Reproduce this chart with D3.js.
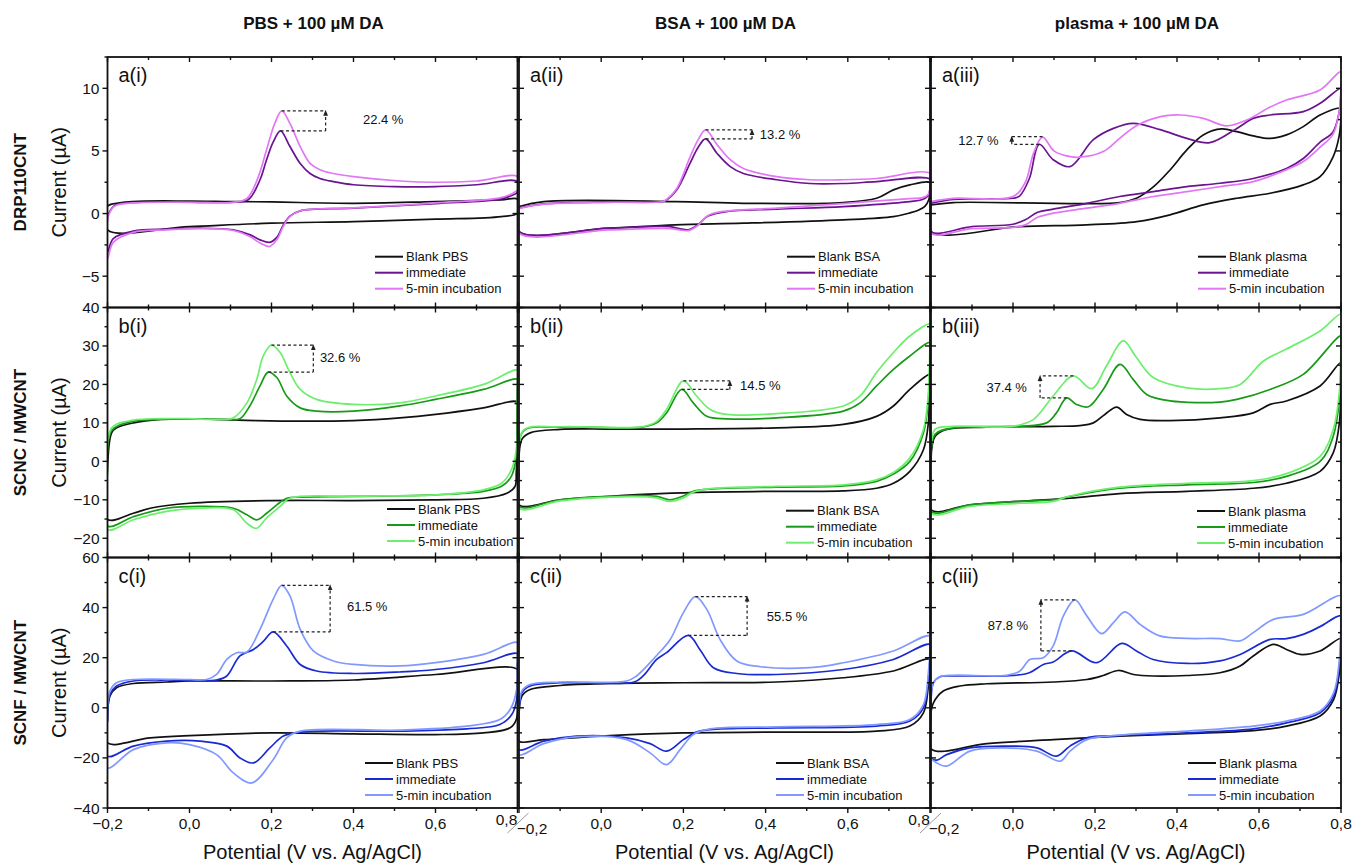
<!DOCTYPE html>
<html><head><meta charset="utf-8">
<script src="https://cdn.jsdelivr.net/npm/d3@7"></script>
<style>body{margin:0;background:#fff}svg{display:block}text{font-family:"Liberation Sans",Arial,sans-serif;fill:#111}</style>
</head><body><svg id="c" width="1354" height="864"></svg>
<script>
// ---------------- DATA ----------------
const colTitles = ["PBS + 100 µM DA", "BSA + 100 µM DA", "plasma + 100 µM DA"];
const rowLabels = ["DRP110CNT", "SCNC / MWCNT", "SCNF / MWCNT"];
const panelLabels = [["a(i)","a(ii)","a(iii)"],["b(i)","b(ii)","b(iii)"],["c(i)","c(ii)","c(iii)"]];
const legendNames = [["Blank PBS","immediate","5-min incubation"],["Blank BSA","immediate","5-min incubation"],["Blank plasma","immediate","5-min incubation"]];
const xDomain = [-0.2, 0.8];
const xMajorTicks = [-0.2, 0, 0.2, 0.4, 0.6, 0.8];
const xMinorTicks = [-0.1, 0.1, 0.3, 0.5, 0.7];
const xTickLabels = ["−0,2", "0,0", "0,2", "0,4", "0,6", "0,8"];
const yDomainA = [-7.5, 12.5], yDomainB = [-25, 40], yDomainC = [-40, 60];
const yTicksA = [-5, 0, 5, 10], yTicksB = [-20, -10, 0, 10, 20, 30, 40], yTicksC = [-40, -20, 0, 20, 40, 60];
const yMinorA = [-7.5, -2.5, 2.5, 7.5, 12.5], yMinorB = [-25, -15, -5, 5, 15, 25, 35], yMinorC = [-30, -10, 10, 30, 50];
const xTitle = "Potential (V vs. Ag/AgCl)", yTitle = "Current (µA)";

// each CV: forward (upper) branch -0.2 -> 0.8, then reverse (lower) branch 0.8 -> -0.2 ; [E (V), I (µA)]
const a1Blank = [[-0.2,0.6],[-0.19,0.75],[-0.14,0.96],[0,1.0],[0.1,0.96],[0.2,0.93],[0.4,0.82],[0.6,0.96],[0.76,1.09],[0.8,1.15],
 [0.8,0.05],[0.76,-0.24],[0.6,-0.45],[0.4,-0.64],[0.2,-0.77],[0,-1.04],[-0.2,-1.3]];
const a1Imm = [[-0.2,-0.2],[-0.19,0.4],[-0.18,0.7],[-0.14,0.88],[0,0.92],[0.1,0.9],[0.143,1.1],[0.172,2.7],[0.188,4.3],[0.204,5.7],[0.222,6.6],[0.245,5.35],[0.27,4.0],[0.294,3.2],[0.318,2.8],[0.351,2.55],[0.4,2.3],[0.5,2.15],[0.6,2.15],[0.7,2.3],[0.8,2.55],
 [0.8,1.7],[0.79,1.5],[0.757,1.15],[0.6,0.8],[0.4,0.43],[0.27,0.22],[0.245,-0.2],[0.229,-0.9],[0.213,-1.9],[0.195,-2.3],[0.172,-2.1],[0.148,-1.7],[0.107,-1.3],[0.026,-1.17],[-0.056,-1.25],[-0.137,-1.4],[-0.186,-2.0],[-0.2,-3.1]];
const a1Inc = [[-0.2,-0.35],[-0.19,0.35],[-0.18,0.65],[-0.14,0.85],[0,0.9],[0.1,0.88],[0.14,1.2],[0.168,2.95],[0.188,5.1],[0.208,7.2],[0.225,8.2],[0.245,7.2],[0.27,5.35],[0.294,4.0],[0.318,3.5],[0.351,3.2],[0.4,2.95],[0.513,2.6],[0.6,2.5],[0.7,2.6],[0.8,2.95],
 [0.8,1.9],[0.79,1.65],[0.757,1.25],[0.6,0.85],[0.4,0.45],[0.27,0.22],[0.245,-0.25],[0.229,-1.0],[0.213,-2.1],[0.195,-2.63],[0.172,-2.35],[0.148,-1.85],[0.107,-1.35],[0.026,-1.2],[-0.056,-1.3],[-0.137,-1.5],[-0.186,-2.3],[-0.2,-3.6]];

const a2Blank = [[-0.2,0.56],[-0.14,0.96],[0.18,0.96],[0.346,0.82],[0.589,0.88],[0.67,1.22],[0.711,1.89],[0.751,2.29],[0.8,2.47],
 [0.8,1.8],[0.797,1.1],[0.788,0.6],[0.77,0.25],[0.751,0.05],[0.711,-0.24],[0.589,-0.5],[0.346,-0.77],[0.18,-0.9],[0.02,-1.17],[-0.2,-1.44]];
const a2Imm = [[-0.2,0.43],[-0.14,0.77],[0.02,0.93],[0.15,0.96],[0.16,1.1],[0.184,1.9],[0.216,4.0],[0.236,5.3],[0.254,5.96],[0.282,4.8],[0.314,3.75],[0.346,3.2],[0.427,2.7],[0.508,2.4],[0.589,2.4],[0.67,2.55],[0.8,2.74],
 [0.8,1.95],[0.795,1.4],[0.78,1.1],[0.751,0.96],[0.589,0.56],[0.427,0.35],[0.305,0.16],[0.26,-0.2],[0.235,-0.9],[0.212,-1.3],[0.19,-1.2],[0.167,-1.04],[0.02,-1.17],[-0.2,-1.44]];
const a2Inc = [[-0.2,0.4],[-0.14,0.75],[0.02,0.9],[0.15,0.96],[0.16,1.15],[0.184,2.0],[0.216,4.5],[0.236,5.9],[0.254,6.68],[0.282,5.5],[0.314,4.3],[0.346,3.6],[0.427,2.95],[0.508,2.7],[0.589,2.7],[0.67,2.8],[0.8,3.2],
 [0.8,2.0],[0.795,1.5],[0.78,1.25],[0.751,1.2],[0.589,0.8],[0.427,0.43],[0.305,0.2],[0.26,-0.15],[0.235,-0.95],[0.212,-1.36],[0.19,-1.3],[0.167,-1.2],[0.02,-1.3],[-0.2,-1.57]];

const a3Blank = [[-0.2,0.69],[-0.146,0.88],[0.26,0.88],[0.301,1.22],[0.343,2.15],[0.383,3.48],[0.424,5.08],[0.464,6.28],[0.509,6.76],[0.546,6.54],[0.586,6.2],[0.627,6.0],[0.667,6.28],[0.708,6.94],[0.749,7.87],[0.8,8.4],
 [0.8,7.6],[0.795,6.1],[0.781,4.55],[0.749,2.95],[0.708,2.29],[0.627,1.62],[0.546,1.22],[0.464,0.69],[0.383,-0.1],[0.302,-0.64],[0.18,-0.9],[0.017,-1.04],[-0.2,-1.44]];
const a3Imm = [[-0.2,0.82],[-0.146,1.14],[0.0,1.22],[0.016,1.4],[0.04,2.8],[0.064,5.53],[0.098,4.3],[0.139,3.75],[0.196,5.9],[0.245,6.8],[0.293,7.2],[0.359,6.7],[0.424,6.0],[0.48,5.66],[0.546,6.8],[0.586,7.6],[0.627,7.87],[0.708,8.14],[0.749,8.8],[0.8,10.0],
 [0.8,9.6],[0.795,8.0],[0.78,6.5],[0.749,5.7],[0.708,4.4],[0.667,3.6],[0.586,2.8],[0.505,2.42],[0.424,2.15],[0.343,1.75],[0.26,1.36],[0.18,0.82],[0.098,0.35],[0.06,0.1],[0.03,-0.5],[0.0,-0.85],[-0.1,-1.04],[-0.2,-1.44]];
const a3Inc = [[-0.2,0.96],[-0.146,1.22],[0.0,1.36],[0.03,2.5],[0.05,4.8],[0.072,6.1],[0.1,5.0],[0.13,4.6],[0.163,4.5],[0.22,4.95],[0.26,6.0],[0.3,7.0],[0.36,7.74],[0.407,7.87],[0.464,7.6],[0.521,7.0],[0.57,7.47],[0.627,8.5],[0.667,9.07],[0.749,9.87],[0.8,11.33],
 [0.8,10.0],[0.795,8.0],[0.78,6.3],[0.749,5.3],[0.708,4.15],[0.667,3.5],[0.586,2.55],[0.505,2.15],[0.424,1.75],[0.343,1.36],[0.26,0.82],[0.18,0.43],[0.098,0.03],[0.06,-0.3],[0.03,-0.9],[0.0,-1.1],[-0.1,-1.2],[-0.2,-1.57]];

const b1Blank = [[-0.2,-2.2],[-0.19,7.4],[-0.178,8.7],[-0.137,10.0],[-0.072,10.9],[0.0,11.05],[0.066,10.9],[0.164,10.6],[0.27,10.44],[0.4,10.6],[0.513,11.3],[0.6,12.2],[0.717,13.9],[0.8,15.4],
 [0.8,12],[0.799,5],[0.797,-3],[0.794,-6.5],[0.774,-8.3],[0.717,-9.6],[0.595,-10],[0.4,-10.2],[0.2,-10.2],[0.0,-10.9],[-0.096,-12.2],[-0.137,-13.5],[-0.2,-15.1]];
const b1Imm = [[-0.2,-3],[-0.19,8.0],[-0.137,10.4],[-0.072,10.9],[0.0,11.05],[0.1,10.9],[0.123,11.05],[0.147,14.4],[0.172,19.6],[0.192,23.2],[0.213,21.8],[0.237,17.0],[0.27,13.9],[0.31,13.05],[0.4,13.05],[0.513,14.4],[0.6,16.1],[0.717,18.7],[0.8,21.3],
 [0.8,19],[0.799,10],[0.797,1.3],[0.785,-3.9],[0.761,-6.5],[0.717,-7.8],[0.6,-8.7],[0.4,-9.1],[0.27,-9.3],[0.237,-9.6],[0.213,-11.3],[0.188,-13.5],[0.164,-15.2],[0.14,-13.9],[0.107,-12.2],[0.026,-11.7],[-0.056,-12.2],[-0.137,-14.4],[-0.2,-16.8]];
const b1Inc = [[-0.2,-2.2],[-0.19,8.7],[-0.137,10.7],[-0.072,11.1],[0.0,11.1],[0.066,10.9],[0.107,11.3],[0.14,15.2],[0.164,21.3],[0.18,27.4],[0.2,30.2],[0.221,28.3],[0.245,23.1],[0.27,18.7],[0.31,16.1],[0.4,14.8],[0.513,15.2],[0.6,17.0],[0.717,20.0],[0.8,23.7],
 [0.8,21],[0.799,12],[0.797,3],[0.785,-2.2],[0.761,-5.7],[0.717,-7.4],[0.6,-8.7],[0.4,-9.1],[0.245,-9.6],[0.221,-11.7],[0.188,-14.7],[0.164,-17.4],[0.14,-16.1],[0.107,-12.6],[0.026,-12.2],[-0.056,-13.0],[-0.137,-15.2],[-0.2,-17.7]];

const b2Blank = [[-0.2,-3.9],[-0.193,5.7],[-0.173,7.4],[-0.1,8.3],[0.021,8.4],[0.2,8.4],[0.427,8.7],[0.589,9.6],[0.67,11.7],[0.711,14.4],[0.751,18.7],[0.8,22.6],
 [0.8,20],[0.798,15],[0.796,10],[0.784,3.0],[0.751,-2.6],[0.711,-5.7],[0.67,-7.0],[0.589,-7.7],[0.427,-7.8],[0.265,-8.0],[0.143,-8.4],[0.021,-9.1],[-0.1,-10],[-0.2,-11.3]];
const b2Imm = [[-0.2,-2.2],[-0.19,7.8],[-0.1,8.9],[0.1,8.9],[0.135,10.0],[0.159,12.6],[0.196,18.7],[0.224,15.2],[0.257,11.7],[0.305,11.05],[0.427,11.3],[0.589,13.05],[0.63,15.2],[0.67,19.6],[0.711,23.9],[0.751,27.4],[0.8,30.9],
 [0.8,28],[0.796,16],[0.784,7.4],[0.751,0],[0.711,-3.3],[0.67,-5.2],[0.589,-6.4],[0.427,-6.7],[0.265,-7.2],[0.224,-7.8],[0.2,-9.0],[0.167,-10.0],[0.135,-9.1],[0.021,-9.1],[-0.1,-10],[-0.2,-11.7]];
const b2Inc = [[-0.2,-2.0],[-0.19,8.0],[-0.1,9.0],[0.1,9.0],[0.135,10.4],[0.159,13.5],[0.2,20.9],[0.232,17.0],[0.265,13.5],[0.305,12.2],[0.427,12.4],[0.589,14.4],[0.63,17.0],[0.67,23.1],[0.711,28.3],[0.751,32.6],[0.8,35.7],
 [0.8,33],[0.796,18],[0.784,8.3],[0.751,0.9],[0.711,-2.9],[0.67,-4.8],[0.589,-6.1],[0.427,-6.5],[0.265,-7.1],[0.224,-8.0],[0.2,-9.5],[0.163,-10.4],[0.135,-9.5],[0.021,-9.3],[-0.1,-10.3],[-0.2,-12.2]];

const b3Blank = [[-0.2,0.4],[-0.19,6.5],[-0.162,8.3],[-0.064,8.9],[0.098,9.1],[0.163,9.3],[0.196,10],[0.224,12.2],[0.253,14.1],[0.277,12.2],[0.31,10.9],[0.383,10.6],[0.505,11.3],[0.586,12.6],[0.627,14.8],[0.667,15.7],[0.749,19.6],[0.8,25.7],
 [0.8,22],[0.796,10],[0.781,2.2],[0.749,-2.6],[0.667,-5.7],[0.586,-7.0],[0.424,-7.8],[0.26,-8.4],[0.139,-9.6],[0.017,-10.4],[-0.105,-11.3],[-0.2,-12.6]];
const b3Imm = [[-0.2,1.3],[-0.19,7.0],[-0.146,8.7],[0.017,9.1],[0.082,10.0],[0.106,12.6],[0.131,16.5],[0.155,14.8],[0.184,14.2],[0.22,18.7],[0.261,25.2],[0.293,21.3],[0.326,17.4],[0.383,15.7],[0.505,15.4],[0.546,16.1],[0.627,18.7],[0.708,22.6],[0.8,32.6],
 [0.8,29],[0.796,16],[0.781,6.5],[0.749,0],[0.667,-3.9],[0.586,-5.5],[0.424,-6.1],[0.26,-7.0],[0.139,-9.1],[0.098,-10.0],[0.017,-10.4],[-0.105,-11.3],[-0.2,-13.0]];
const b3Inc = [[-0.2,1.7],[-0.19,8.3],[-0.146,9.1],[0.0,9.1],[0.05,10.9],[0.098,17.0],[0.147,22.2],[0.192,18.9],[0.228,24.8],[0.269,31.3],[0.301,27.0],[0.342,21.8],[0.424,19.1],[0.505,18.9],[0.554,20.0],[0.611,26.1],[0.667,29.2],[0.749,33.9],[0.8,38.3],
 [0.8,35],[0.796,18],[0.781,8.3],[0.749,1.3],[0.667,-3.2],[0.586,-5.0],[0.424,-5.7],[0.26,-6.7],[0.139,-9.0],[0.098,-10.4],[0.017,-10.9],[-0.105,-11.7],[-0.2,-13.5]];

const c1Blank = [[-0.2,-4.7],[-0.194,4.7],[-0.178,8.0],[-0.137,9.7],[-0.056,10.3],[0.0,10.7],[0.2,10.7],[0.4,11.1],[0.6,13.3],[0.8,15.3],
 [0.8,10],[0.797,-4.7],[0.782,-8.0],[0.717,-10.0],[0.6,-10.7],[0.4,-10.4],[0.2,-10.0],[0.0,-11.1],[-0.096,-12.0],[-0.2,-14.0]];
const c1Imm = [[-0.2,-5.3],[-0.194,5.3],[-0.178,8.7],[-0.137,10.7],[-0.056,11.1],[0.066,11.1],[0.091,12.7],[0.123,20.7],[0.156,23.3],[0.18,26.5],[0.204,30.3],[0.237,24.7],[0.27,17.3],[0.31,14.7],[0.4,13.7],[0.513,14.3],[0.6,15.3],[0.717,18.0],[0.8,21.6],
 [0.8,17],[0.798,3.3],[0.786,-2.7],[0.757,-6.7],[0.676,-8.4],[0.513,-9.3],[0.27,-9.7],[0.229,-11.3],[0.196,-16.0],[0.156,-22.0],[0.123,-20.0],[0.091,-15.3],[0.026,-13.3],[-0.056,-13.3],[-0.137,-15.3],[-0.2,-19.3]];
const c1Inc = [[-0.2,-4.7],[-0.194,6.7],[-0.178,10.0],[-0.137,11.3],[0.0,11.3],[0.042,11.3],[0.066,13.3],[0.091,19.3],[0.115,22.0],[0.14,22.3],[0.172,31.3],[0.204,43.3],[0.225,48.9],[0.245,44.7],[0.27,31.3],[0.302,22.7],[0.351,18.7],[0.4,17.3],[0.513,16.7],[0.6,18.0],[0.717,21.3],[0.8,26.0],
 [0.8,21],[0.798,7.3],[0.782,-0.7],[0.757,-4.7],[0.676,-7.3],[0.513,-8.9],[0.27,-9.3],[0.237,-12.0],[0.204,-20.7],[0.152,-30.0],[0.107,-26.0],[0.066,-18.7],[0.0,-14.7],[-0.056,-14.0],[-0.137,-16.7],[-0.2,-24.0]];

const c2Blank = [[-0.2,-7.3],[-0.193,4.7],[-0.173,7.3],[-0.1,8.9],[0.021,9.7],[0.2,10.0],[0.427,10.3],[0.589,12.0],[0.711,14.7],[0.8,19.3],
 [0.8,15],[0.796,8.7],[0.784,-2.0],[0.751,-7.3],[0.67,-9.3],[0.427,-9.7],[0.2,-10.0],[0.021,-11.1],[-0.14,-12.7],[-0.2,-13.3]];
const c2Imm = [[-0.2,-7.3],[-0.193,6.0],[-0.173,8.7],[-0.1,10.0],[0.08,10.3],[0.102,12.7],[0.135,19.3],[0.159,22.0],[0.212,28.9],[0.24,23.3],[0.273,16.0],[0.33,13.7],[0.427,13.3],[0.589,15.3],[0.711,19.3],[0.8,25.3],
 [0.8,20],[0.796,11.3],[0.784,0],[0.751,-5.3],[0.67,-7.3],[0.427,-8.0],[0.265,-8.7],[0.232,-9.7],[0.2,-12.7],[0.159,-17.3],[0.119,-14.3],[0.062,-12.0],[-0.06,-11.3],[-0.14,-13.3],[-0.2,-16.7]];
const c2Inc = [[-0.2,-6.7],[-0.193,6.7],[-0.173,9.3],[-0.1,10.3],[0.062,10.7],[0.086,12.7],[0.119,18.0],[0.135,20.9],[0.168,27.3],[0.2,38.0],[0.229,44.4],[0.257,39.3],[0.289,27.3],[0.33,18.7],[0.387,16.4],[0.508,16.0],[0.589,18.0],[0.711,22.7],[0.8,28.7],
 [0.8,23],[0.796,14],[0.784,1.3],[0.751,-4.7],[0.67,-6.7],[0.427,-7.6],[0.265,-8.4],[0.224,-10.7],[0.192,-16.7],[0.159,-22.7],[0.119,-18.0],[0.062,-12.7],[-0.06,-11.6],[-0.14,-14.3],[-0.2,-18.7]];

const c3Blank = [[-0.2,-2.0],[-0.194,2.0],[-0.17,6.7],[-0.13,8.7],[-0.064,9.6],[0.098,10.3],[0.18,11.3],[0.22,12.9],[0.257,14.9],[0.294,13.3],[0.342,12.7],[0.424,12.9],[0.505,14.0],[0.554,16.7],[0.586,20.7],[0.635,25.3],[0.667,23.3],[0.7,21.3],[0.749,22.7],[0.8,27.6],
 [0.8,22],[0.796,14.0],[0.782,3.3],[0.749,-3.3],[0.667,-7.3],[0.586,-9.1],[0.424,-10.3],[0.26,-11.3],[0.098,-12.7],[-0.064,-14.3],[-0.2,-16.4]];
const c3Imm = [[-0.2,-3.3],[-0.194,10.0],[-0.178,12.4],[-0.146,12.7],[0.0,12.9],[0.04,14.0],[0.074,17.3],[0.098,18.3],[0.143,22.7],[0.204,18.0],[0.265,25.7],[0.301,22.7],[0.342,19.3],[0.424,17.7],[0.505,18.7],[0.554,21.3],[0.627,27.3],[0.667,27.6],[0.708,29.3],[0.749,32.4],[0.8,36.7],
 [0.8,30],[0.796,16.7],[0.782,4.7],[0.749,-2.0],[0.667,-6.0],[0.586,-8.4],[0.424,-10.0],[0.26,-11.1],[0.18,-12.0],[0.139,-15.3],[0.106,-19.3],[0.058,-16.0],[-0.024,-15.3],[-0.105,-16.0],[-0.162,-18.7],[-0.186,-20.9],[-0.2,-20.0]];
const c3Inc = [[-0.2,-2.0],[-0.194,10.0],[-0.178,12.4],[-0.146,13.0],[-0.016,13.0],[0.017,14.7],[0.041,19.3],[0.074,20.0],[0.098,24.7],[0.123,36.7],[0.151,43.1],[0.18,36.7],[0.216,29.6],[0.245,34.0],[0.273,38.3],[0.31,33.3],[0.358,28.7],[0.424,27.7],[0.505,27.6],[0.554,26.7],[0.586,30.0],[0.635,35.3],[0.708,37.3],[0.8,44.7],
 [0.8,38],[0.796,19.3],[0.782,6.0],[0.749,-1.3],[0.667,-5.3],[0.586,-7.3],[0.424,-9.3],[0.26,-10.9],[0.18,-12.7],[0.139,-17.3],[0.115,-21.3],[0.058,-17.3],[-0.024,-16.0],[-0.105,-17.3],[-0.162,-23.3],[-0.186,-22.0],[-0.2,-20.0]];

// percentage annotations: [E top-peak, I top, E bottom-peak, I bottom, E bar, label, E text, I text, anchor]
const pctA1 = [0.225, 8.2, 0.222, 6.6, 0.332, "22.4 %", 0.423, 7.5, "start"];
const pctA2 = [0.254, 6.68, 0.254, 5.96, 0.367, "13.2 %", 0.386, 6.35, "start"];
const pctA3 = [0.072, 6.14, 0.064, 5.53, -0.003, "12.7 %", -0.035, 5.85, "end"];
const pctB1 = [0.2, 30.2, 0.192, 23.2, 0.302, "32.6 %", 0.318, 27.0, "start"];
const pctB2 = [0.2, 20.9, 0.196, 18.7, 0.313, "14.5 %", 0.338, 19.8, "start"];
const pctB3 = [0.147, 22.2, 0.131, 16.5, 0.066, "37.4 %", 0.034, 19.3, "end"];
const pctC1 = [0.225, 48.9, 0.204, 30.3, 0.343, "61.5 %", 0.384, 40.4, "start"];
const pctC2 = [0.229, 44.4, 0.212, 28.9, 0.355, "55.5 %", 0.403, 36.4, "start"];
const pctC3 = [0.151, 43.1, 0.143, 22.7, 0.068, "87.8 %", 0.037, 32.9, "end"];

// ---------------- LAYOUT / STYLE ----------------
const colX = [[107.5, 517.5], [519, 930], [931, 1341]];
const rowY = [[57, 307.5], [307.5, 557.5], [557.5, 808]];
const rowColors = [["#111111", "#6a1490", "#e277f6"], ["#111111", "#179a17", "#6def6d"], ["#111111", "#1a2ad2", "#8199ff"]];
const legendPos = [[[375, 256.7], [787, 256.7], [1198, 256.7]], [[387, 509], [786, 510.7], [1197, 511]], [[365, 763], [776, 763], [1188, 763]]];
const yDomains = [yDomainA, yDomainB, yDomainC];
const yTicks = [yTicksA, yTicksB, yTicksC];
const yMinor = [yMinorA, yMinorB, yMinorC];
const seriesGrid = [[[a1Blank, a1Imm, a1Inc], [a2Blank, a2Imm, a2Inc], [a3Blank, a3Imm, a3Inc]],
                    [[b1Blank, b1Imm, b1Inc], [b2Blank, b2Imm, b2Inc], [b3Blank, b3Imm, b3Inc]],
                    [[c1Blank, c1Imm, c1Inc], [c2Blank, c2Imm, c2Inc], [c3Blank, c3Imm, c3Inc]]];
const pctGrid = [[pctA1, pctA2, pctA3], [pctB1, pctB2, pctB3], [pctC1, pctC2, pctC3]];

const svg = d3.select("#c");
const defs = svg.append("defs");
defs.append("marker").attr("id", "arr").attr("viewBox", "0 0 10 10").attr("refX", 5).attr("refY", 5)
  .attr("markerWidth", 5).attr("markerHeight", 5).attr("orient", "auto")
  .append("path").attr("d", "M0,1 L10,5 L0,9 Z").attr("fill", "#222");

const MAJ = 5, MIN = 3;

for (let ri = 0; ri < 3; ri++) {
  for (let ci = 0; ci < 3; ci++) {
    const [x0, x1] = colX[ci], [y0, y1] = rowY[ri];
    const x = d3.scaleLinear().domain(xDomain).range([x0, x1]);
    const y = d3.scaleLinear().domain(yDomains[ri]).range([y1, y0]);
    const g = svg.append("g");
    const cid = `clip${ri}${ci}`;
    defs.append("clipPath").attr("id", cid).append("rect")
      .attr("x", x0).attr("y", y0).attr("width", x1 - x0).attr("height", y1 - y0);

    // curves
    const line = d3.line().x(d => x(d[0])).y(d => y(d[1])).curve(d3.curveCatmullRom.alpha(0.5));
    const cg = g.append("g").attr("clip-path", `url(#${cid})`);
    seriesGrid[ri][ci].forEach((s, k) => {
      cg.append("path").attr("d", line(s.concat([s[0]])))
        .attr("fill", "none").attr("stroke", rowColors[ri][k]).attr("stroke-width", 1.7)
        .attr("stroke-linejoin", "round");
    });

    // annotation
    const p = pctGrid[ri][ci];
    const ag = g.append("g").attr("stroke", "#222").attr("stroke-width", 1.2).attr("stroke-dasharray", "3,2.5").attr("fill", "none");
    ag.append("line").attr("x1", x(p[0])).attr("x2", x(p[4])).attr("y1", y(p[1])).attr("y2", y(p[1]));
    ag.append("line").attr("x1", x(p[2])).attr("x2", x(p[4])).attr("y1", y(p[3])).attr("y2", y(p[3]));
    ag.append("line").attr("x1", x(p[4])).attr("x2", x(p[4])).attr("y1", y(p[3])).attr("y2", y(p[1]) + 2)
      .attr("marker-end", "url(#arr)");
    g.append("text").attr("x", x(p[6])).attr("y", y(p[7])).attr("text-anchor", p[8])
      .attr("dominant-baseline", "central").attr("font-size", 13).text(p[5]);

    // frame
    g.append("rect").attr("x", x0).attr("y", y0).attr("width", x1 - x0).attr("height", y1 - y0)
      .attr("fill", "none").attr("stroke", "#111").attr("stroke-width", 1.8);

    // ticks
    const tg = g.append("g").attr("stroke", "#111").attr("stroke-width", 1.4);
    const leftDir = ci === 0 ? -1 : 1;
    const botDir = ri === 2 ? 1 : -1;
    const yt = (v, len) => {
      tg.append("line").attr("x1", x0).attr("x2", x0 + leftDir * len).attr("y1", y(v)).attr("y2", y(v));
      tg.append("line").attr("x1", x1).attr("x2", x1 - len).attr("y1", y(v)).attr("y2", y(v));
    };
    yTicks[ri].forEach(v => yt(v, MAJ));
    yMinor[ri].forEach(v => yt(v, MIN));
    const xt = (v, len) => {
      tg.append("line").attr("x1", x(v)).attr("x2", x(v)).attr("y1", y0).attr("y2", y0 + len);
      tg.append("line").attr("x1", x(v)).attr("x2", x(v)).attr("y1", y1).attr("y2", y1 + botDir * len);
    };
    xMajorTicks.forEach(v => xt(v, MAJ));
    xMinorTicks.forEach(v => xt(v, MIN));

    // y tick labels (first column)
    if (ci === 0) {
      yTicks[ri].forEach(v => {
        g.append("text").attr("x", x0 - 8).attr("y", y(v)).attr("text-anchor", "end")
          .attr("dominant-baseline", "central").attr("font-size", 15.5)
          .text(v < 0 ? "−" + Math.abs(v) : String(v));
      });
    }
    // x tick labels (bottom row)
    if (ri === 2) {
      xMajorTicks.forEach((v, i) => {
        let dx = 0, yb = 829;
        if (i === 5 && ci < 2) { dx = -11; yb = 825; }
        if (i === 0 && ci > 0) { dx = 13; yb = 834; }
        g.append("text").attr("x", x(v) + dx).attr("y", yb).attr("text-anchor", "middle")
          .attr("font-size", 15.5).text(xTickLabels[i]);
      });
      if (ci < 2) {
        g.append("line").attr("x1", x(0.8) - 10).attr("y1", 833).attr("x2", x(0.8) + 11).attr("y2", 813)
          .attr("stroke", "#999").attr("stroke-width", 1);
      }
      g.append("text").attr("x", (x0 + x1) / 2).attr("y", 852).attr("text-anchor", "middle")
        .attr("dominant-baseline", "central").attr("font-size", 20).text(xTitle);
    }

    // panel label
    g.append("text").attr("x", x0 + 11).attr("y", y0 + 25).attr("font-size", 20).text(panelLabels[ri][ci]);

    // legend
    const [lx, ly] = legendPos[ri][ci];
    legendNames[ci].forEach((name, k) => {
      const yy = ly + k * 16;
      g.append("line").attr("x1", lx).attr("x2", lx + 28).attr("y1", yy).attr("y2", yy)
        .attr("stroke", rowColors[ri][k]).attr("stroke-width", 2);
      g.append("text").attr("x", lx + 31).attr("y", yy).attr("dominant-baseline", "central")
        .attr("font-size", 13).text(name);
    });
  }
  // row labels
  const cy = (rowY[ri][0] + rowY[ri][1]) / 2;
  svg.append("text").attr("transform", `translate(20,${cy}) rotate(-90)`).attr("text-anchor", "middle")
    .attr("dominant-baseline", "central").attr("font-size", 17).attr("font-weight", "bold").text(rowLabels[ri]);
  svg.append("text").attr("transform", `translate(59,${cy}) rotate(-90)`).attr("text-anchor", "middle")
    .attr("dominant-baseline", "central").attr("font-size", 20).text(yTitle);
}
colTitles.forEach((t, ci) => {
  svg.append("text").attr("x", (colX[ci][0] + colX[ci][1]) / 2 + 1).attr("y", 29).attr("text-anchor", "middle")
    .attr("font-size", 17).attr("font-weight", "bold").text(t);
});
</script></body></html>
